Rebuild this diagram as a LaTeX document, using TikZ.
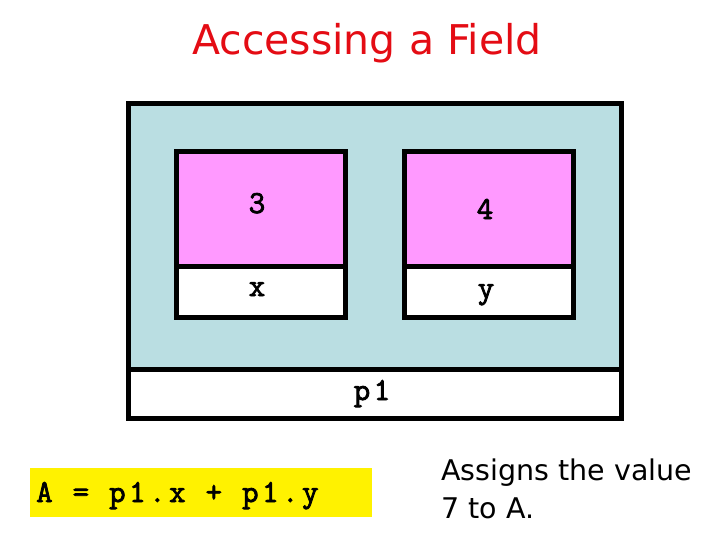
\documentclass[tikz,border=0pt]{standalone}
\usepackage{fontspec}
\setmainfont{DejaVu Sans}
\newfontfamily\codefont[FakeBold=2.5,LetterSpace=11]{Latin Modern Mono}
\definecolor{objblue}{RGB}{186,222,226}
\definecolor{fieldpink}{RGB}{255,153,255}
\definecolor{titlered}{RGB}{228,12,20}
\begin{document}
\begin{tikzpicture}[x=1pt,y=-1pt,
  boxstyle/.style={draw=black,line width=5pt,rectangle,inner sep=0pt,anchor=north west},
  codetext/.style={font=\fontsize{32}{32}\selectfont\codefont,inner sep=0pt},
  prose/.style={font=\fontsize{28.5}{38}\selectfont,align=left,inner sep=0pt}]
\useasboundingbox (0,0) rectangle (720,540);
% object p1
\node[boxstyle,fill=objblue,minimum width=493pt,minimum height=265pt] (obj) at (125.5,101.5) {};
\node[boxstyle,fill=white,minimum width=493pt,minimum height=49pt] (objname) at (125.5,366.5) {};
% field x
\node[boxstyle,fill=fieldpink,minimum width=169pt,minimum height=114.5pt] (xval) at (173.5,149.5) {};
\node[boxstyle,fill=white,minimum width=169pt,minimum height=50.5pt] (xname) at (173.5,264) {};
% field y
\node[boxstyle,fill=fieldpink,minimum width=169pt,minimum height=114.5pt] (yval) at (401.5,149.5) {};
\node[boxstyle,fill=white,minimum width=169pt,minimum height=50.5pt] (yname) at (401.5,264) {};
% labels
\node[codetext,anchor=base] (t3) at (257,213) {3};
\node[codetext,anchor=base] (t4) at (485,219) {4};
\node[codetext,anchor=base] (tx) at (257,296) {x};
\node[codetext,anchor=base] (ty) at (486,298) {y};
\node[codetext,anchor=base] (tp1) at (372,400) {p1};
% title
\node[font=\fontsize{41}{44}\selectfont,text=titlered,inner sep=0pt,anchor=base] (title) at (367,55) {Accessing a Field};
% statement
\node[fill=yellow,minimum width=342pt,minimum height=49pt,inner sep=0pt,anchor=north west] (stmt) at (30,468) {};
\node[codetext,anchor=base west] (stmttext) at (36,502) {A = p1.x + p1.y};
% explanation
\node[prose,anchor=base west] (expl) at (441,518) {Assigns the value\\7 to A.};
\end{tikzpicture}
\end{document}
